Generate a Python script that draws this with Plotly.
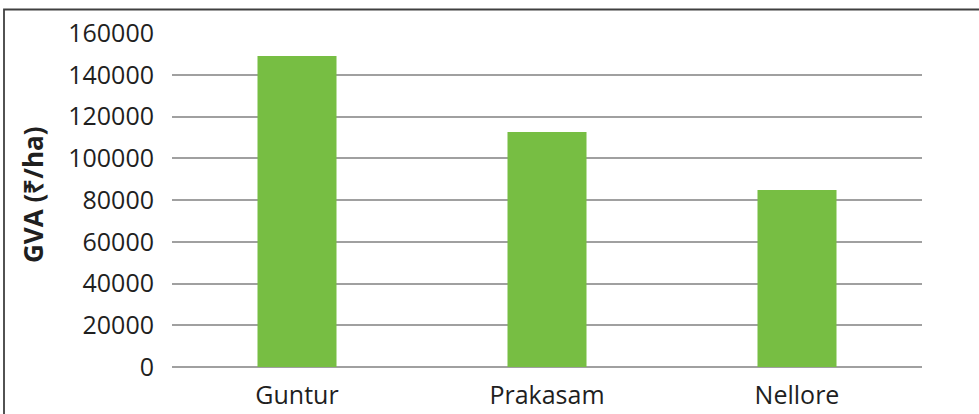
import plotly.graph_objects as go

# District-wise gross value added per hectare
districts = ["Guntur", "Prakasam", "Nellore"]
gva_per_ha = [149000, 112600, 84800]
y_ticks = [0, 20000, 40000, 60000, 80000, 100000, 120000, 140000, 160000]

W, H = 979, 414
ML, MR, MT, MB = 172, 57, 33, 47
pw, ph = W - ML - MR, H - MT - MB


def px_to_paper_x(px):
    return (px - ML) / pw


def px_to_paper_y(py):
    return (H - MB - py) / ph


fig = go.Figure(
    go.Bar(
        x=districts,
        y=gva_per_ha,
        marker=dict(color="#77BE43", line=dict(width=0)),
        width=0.316,
    )
)

text_color = "#1f1f1f"
fig.update_layout(
    width=W,
    height=H,
    margin=dict(l=ML, r=MR, t=MT, b=MB, autoexpand=False),
    paper_bgcolor="white",
    plot_bgcolor="white",
    showlegend=False,
    font=dict(family="Open Sans", size=25, color=text_color),
    xaxis=dict(
        showgrid=False,
        showline=False,
        ticks="",
        tickfont=dict(size=25, color=text_color),
        ticklabelstandoff=11,
        range=[-0.5, 2.5],
        automargin=False,
    ),
    yaxis=dict(
        range=[0, 160000],
        tickvals=y_ticks,
        ticktext=[str(v) for v in y_ticks],
        showgrid=True,
        gridcolor="#A0A0A0",
        gridwidth=1.5,
        zeroline=True,
        zerolinecolor="#A0A0A0",
        zerolinewidth=1.5,
        ticks="",
        ticklabelstandoff=17,
        tickfont=dict(size=25, color=text_color),
        automargin=False,
    ),
    annotations=[
        dict(
            text="<b>GVA (₹/ha)</b>",
            xref="paper",
            yref="paper",
            x=px_to_paper_x(33),
            y=px_to_paper_y(195),
            xanchor="center",
            yanchor="middle",
            textangle=-90,
            showarrow=False,
            font=dict(family="Open Sans", size=26, color=text_color),
        )
    ],
    shapes=[
        dict(
            type="rect",
            xref="paper",
            yref="paper",
            x0=px_to_paper_x(4),
            y0=px_to_paper_y(430),
            x1=px_to_paper_x(1000),
            y1=px_to_paper_y(9.5),
            line=dict(color="#404040", width=1.8),
            fillcolor="rgba(0,0,0,0)",
            layer="below",
        )
    ],
)

fig.write_html("out.html")
